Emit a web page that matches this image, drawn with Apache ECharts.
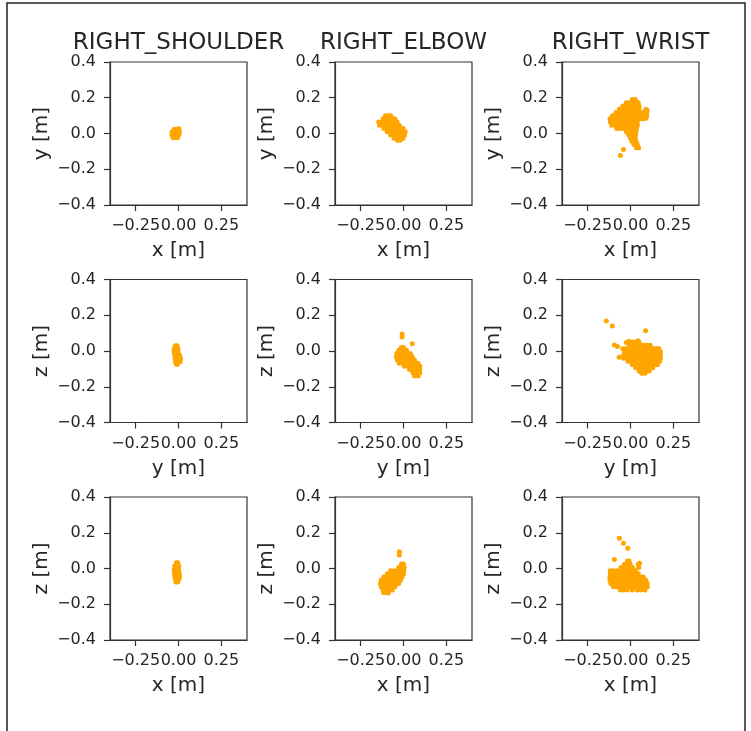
<!DOCTYPE html>
<html>
<head>
<meta charset="utf-8">
<script src="https://cdn.jsdelivr.net/npm/echarts@6/dist/echarts.min.js"></script>
<style>
html,body{margin:0;padding:0;background:#fff;}
#chart{width:751px;height:731px;}
</style>
</head>
<body>
<div id="chart"></div>
<script>
// ---- labels ----
const jointTitles = ['RIGHT_SHOULDER', 'RIGHT_ELBOW', 'RIGHT_WRIST'];
const rowXNames = ['x [m]', 'y [m]', 'x [m]'];
const rowYNames = ['y [m]', 'z [m]', 'z [m]'];
const xTickValues = [-0.25, 0, 0.25];
const xTickLabels = ['\u22120.25', '0.00', '0.25'];
const yTickLabels = ['\u22120.4', '\u22120.2', '0.0', '0.2', '0.4'];

// ---- data ----
// row 1: x-y
const shoulderXY = [
  [-0.025,0.024],[-0.008,0.024],[0.003,0.026],
  [-0.038,0.008],[-0.02,0.008],[-0.003,0.008],[0.005,0.01],
  [-0.038,-0.008],[-0.02,-0.008],[-0.003,-0.008],[0.003,-0.006],
  [-0.032,-0.024],[-0.015,-0.024],[-0.005,-0.022]
];
const elbowXY = [
  [-0.105,0.1],[-0.09,0.1],[-0.075,0.1],
  [-0.12,0.082],[-0.1,0.082],[-0.08,0.082],[-0.062,0.082],[-0.05,0.082],
  [-0.145,0.064],[-0.125,0.064],[-0.105,0.064],[-0.085,0.064],[-0.065,0.064],[-0.048,0.064],[-0.038,0.064],
  [-0.14,0.046],[-0.12,0.046],[-0.1,0.046],[-0.08,0.046],[-0.06,0.046],[-0.04,0.046],[-0.025,0.046],
  [-0.115,0.028],[-0.095,0.028],[-0.075,0.028],[-0.055,0.028],[-0.035,0.028],[-0.015,0.028],[-0.002,0.028],
  [-0.095,0.01],[-0.075,0.01],[-0.055,0.01],[-0.035,0.01],[-0.015,0.01],[0.003,0.01],[0.01,0.01],
  [-0.075,-0.008],[-0.055,-0.008],[-0.035,-0.008],[-0.015,-0.008],[0.003,-0.008],[0.006,-0.008],
  [-0.055,-0.026],[-0.035,-0.026],[-0.015,-0.026],[-0.003,-0.026],
  [-0.035,-0.038],[-0.02,-0.038]
];
const wristXY = [
  [0.01,0.19],[0.028,0.19],
  [-0.025,0.172],[-0.005,0.172],[0.015,0.172],[0.035,0.172],[0.045,0.172],
  [-0.045,0.154],[-0.025,0.154],[-0.005,0.154],[0.015,0.154],[0.035,0.154],[0.05,0.154],
  [-0.065,0.136],[-0.045,0.136],[-0.025,0.136],[-0.005,0.136],[0.015,0.136],[0.035,0.136],[0.05,0.136],[0.09,0.136],[0.097,0.13],
  [-0.085,0.118],[-0.065,0.118],[-0.045,0.118],[-0.025,0.118],[-0.005,0.118],[0.015,0.118],[0.035,0.118],[0.055,0.118],[0.075,0.118],[0.095,0.118],
  [-0.105,0.1],[-0.085,0.1],[-0.065,0.1],[-0.045,0.1],[-0.025,0.1],[-0.005,0.1],[0.015,0.1],[0.035,0.1],[0.055,0.1],[0.075,0.1],[0.095,0.1],
  [-0.12,0.082],[-0.1,0.082],[-0.08,0.082],[-0.06,0.082],[-0.04,0.082],[-0.02,0.082],[0.0,0.082],[0.02,0.082],[0.04,0.082],[0.06,0.082],[0.075,0.082],[0.09,0.085],
  [-0.118,0.064],[-0.1,0.064],[-0.08,0.064],[-0.06,0.064],[-0.04,0.064],[-0.02,0.064],[0.0,0.064],[0.02,0.064],[0.04,0.064],
  [-0.11,0.046],[-0.09,0.046],[-0.07,0.046],[-0.05,0.046],[-0.03,0.046],[-0.01,0.046],[0.01,0.046],[0.03,0.046],[0.04,0.046],
  [-0.08,0.028],[-0.06,0.028],[-0.04,0.028],[-0.02,0.028],[0.0,0.028],[0.02,0.028],[0.035,0.028],
  [-0.025,0.01],[-0.005,0.01],[0.015,0.01],[0.032,0.01],
  [-0.01,-0.008],[0.01,-0.008],[0.03,-0.008],
  [0.0,-0.026],[0.018,-0.026],[0.028,-0.026],
  [0.008,-0.044],[0.025,-0.044],[0.032,-0.044],
  [0.02,-0.062],[0.04,-0.062],
  [0.035,-0.08],[0.048,-0.08],
  [-0.041,-0.089],[-0.059,-0.123]
];
// row 2: y-z
const shoulderYZ = [
  [-0.018,0.03],[-0.008,0.03],
  [-0.026,0.012],[-0.008,0.012],[-0.003,0.012],
  [-0.026,-0.006],[-0.008,-0.006],[-0.002,-0.006],
  [-0.022,-0.024],[-0.005,-0.024],[0.006,-0.024],
  [-0.02,-0.042],[-0.003,-0.042],[0.012,-0.042],
  [-0.018,-0.06],[-0.002,-0.06],[0.01,-0.06],
  [-0.012,-0.074],[-0.006,-0.074]
];
const elbowYZ = [
  [-0.008,0.095],[-0.008,0.078],[0.051,0.04],
  [-0.012,0.02],[0.0,0.02],
  [-0.027,0.004],[-0.008,0.004],[0.012,0.004],[0.018,0.004],
  [-0.04,-0.014],[-0.02,-0.014],[0.0,-0.014],[0.02,-0.014],[0.04,-0.014],
  [-0.042,-0.032],[-0.022,-0.032],[-0.002,-0.032],[0.018,-0.032],[0.038,-0.032],[0.05,-0.032],
  [-0.036,-0.05],[-0.016,-0.05],[0.004,-0.05],[0.024,-0.05],[0.044,-0.05],[0.064,-0.05],
  [-0.025,-0.068],[-0.005,-0.068],[0.015,-0.068],[0.035,-0.068],[0.055,-0.068],[0.075,-0.068],[0.085,-0.068],
  [0.005,-0.086],[0.025,-0.086],[0.045,-0.086],[0.065,-0.086],[0.085,-0.086],[0.095,-0.086],
  [0.035,-0.104],[0.055,-0.104],[0.075,-0.104],[0.095,-0.104],
  [0.055,-0.122],[0.075,-0.122],[0.095,-0.122],
  [0.065,-0.14],[0.085,-0.14]
];
const wristYZ = [
  [-0.141,0.168],[-0.106,0.14],[0.088,0.113],
  [-0.094,0.034],[-0.076,0.025],[-0.066,-0.035],[-0.045,0.012],[-0.025,0.048],[-0.01,0.055],[0.045,0.058],
  [0.01,0.05],[0.03,0.05],[0.05,0.048],
  [-0.005,0.032],[0.015,0.032],[0.035,0.032],[0.055,0.032],[0.075,0.032],[0.095,0.032],[0.115,0.032],
  [-0.025,0.014],[-0.005,0.014],[0.015,0.014],[0.035,0.014],[0.055,0.014],[0.075,0.014],[0.095,0.014],[0.115,0.014],[0.135,0.014],[0.155,0.014],[0.165,0.014],
  [-0.035,-0.004],[-0.015,-0.004],[0.005,-0.004],[0.025,-0.004],[0.045,-0.004],[0.065,-0.004],[0.085,-0.004],[0.105,-0.004],[0.125,-0.004],[0.145,-0.004],[0.165,-0.004],[0.175,-0.004],
  [-0.04,-0.022],[-0.02,-0.022],[0.0,-0.022],[0.02,-0.022],[0.04,-0.022],[0.06,-0.022],[0.08,-0.022],[0.1,-0.022],[0.12,-0.022],[0.14,-0.022],[0.16,-0.022],[0.175,-0.022],
  [-0.04,-0.04],[-0.02,-0.04],[0.0,-0.04],[0.02,-0.04],[0.04,-0.04],[0.06,-0.04],[0.08,-0.04],[0.1,-0.04],[0.12,-0.04],[0.14,-0.04],[0.16,-0.04],[0.175,-0.04],
  [-0.015,-0.058],[0.005,-0.058],[0.025,-0.058],[0.045,-0.058],[0.065,-0.058],[0.085,-0.058],[0.105,-0.058],[0.125,-0.058],[0.145,-0.058],[0.165,-0.058],[0.17,-0.058],
  [0.01,-0.076],[0.03,-0.076],[0.05,-0.076],[0.07,-0.076],[0.09,-0.076],[0.11,-0.076],[0.13,-0.076],[0.15,-0.076],[0.158,-0.076],
  [0.03,-0.094],[0.05,-0.094],[0.07,-0.094],[0.09,-0.094],[0.11,-0.094],[0.13,-0.094],
  [0.05,-0.112],[0.07,-0.112],[0.09,-0.112],[0.11,-0.112],
  [0.065,-0.124],[0.085,-0.124]
];
// row 3: x-z
const shoulderXZ = [
  [-0.012,0.032],[-0.004,0.032],
  [-0.022,0.014],[-0.006,0.014],[0.002,0.014],
  [-0.025,-0.004],[-0.01,-0.004],[0.0,-0.004],
  [-0.025,-0.022],[-0.01,-0.022],[0.004,-0.022],
  [-0.022,-0.04],[-0.008,-0.04],[0.006,-0.04],
  [-0.02,-0.058],[-0.006,-0.058],[0.004,-0.058],
  [-0.015,-0.076],[-0.005,-0.076]
];
const elbowXZ = [
  [-0.024,0.094],[-0.024,0.075],
  [-0.012,0.025],[0.0,0.025],
  [-0.028,0.006],[-0.01,0.006],[0.004,0.006],
  [-0.075,-0.012],[-0.055,-0.012],[-0.035,-0.012],[-0.015,-0.012],[0.002,-0.012],
  [-0.095,-0.03],[-0.075,-0.03],[-0.055,-0.03],[-0.035,-0.03],[-0.015,-0.03],[0.0,-0.03],
  [-0.115,-0.048],[-0.095,-0.048],[-0.075,-0.048],[-0.055,-0.048],[-0.035,-0.048],[-0.015,-0.048],[-0.008,-0.048],
  [-0.13,-0.066],[-0.11,-0.066],[-0.09,-0.066],[-0.07,-0.066],[-0.05,-0.066],[-0.03,-0.066],[-0.018,-0.066],
  [-0.135,-0.084],[-0.115,-0.084],[-0.095,-0.084],[-0.075,-0.084],[-0.055,-0.084],[-0.035,-0.084],[-0.028,-0.084],
  [-0.13,-0.102],[-0.11,-0.102],[-0.09,-0.102],[-0.07,-0.102],[-0.05,-0.102],
  [-0.12,-0.12],[-0.1,-0.12],[-0.08,-0.12],[-0.065,-0.12],
  [-0.115,-0.136],[-0.095,-0.136],[-0.088,-0.136]
];
const wristXZ = [
  [-0.065,0.169],[-0.041,0.141],[-0.016,0.113],[-0.094,0.051],[0.053,0.029],[0.045,0.022],
  [-0.018,0.042],[-0.008,0.042],
  [-0.035,0.024],[-0.015,0.024],[-0.002,0.024],
  [-0.055,0.006],[-0.035,0.006],[-0.015,0.006],[0.005,0.006],[0.012,0.006],[0.048,0.006],
  [-0.118,-0.012],[-0.1,-0.012],[-0.08,-0.012],[-0.06,-0.012],[-0.04,-0.012],[-0.02,-0.012],[0.0,-0.012],[0.02,-0.012],[0.028,-0.012],
  [-0.118,-0.03],[-0.1,-0.03],[-0.08,-0.03],[-0.06,-0.03],[-0.04,-0.03],[-0.02,-0.03],[0.0,-0.03],[0.02,-0.03],[0.04,-0.03],[0.045,-0.03],
  [-0.12,-0.048],[-0.1,-0.048],[-0.08,-0.048],[-0.06,-0.048],[-0.04,-0.048],[-0.02,-0.048],[0.0,-0.048],[0.02,-0.048],[0.04,-0.048],[0.06,-0.048],[0.075,-0.048],
  [-0.12,-0.066],[-0.1,-0.066],[-0.08,-0.066],[-0.06,-0.066],[-0.04,-0.066],[-0.02,-0.066],[0.0,-0.066],[0.02,-0.066],[0.04,-0.066],[0.06,-0.066],[0.08,-0.066],[0.09,-0.066],
  [-0.115,-0.084],[-0.095,-0.084],[-0.075,-0.084],[-0.055,-0.084],[-0.035,-0.084],[-0.015,-0.084],[0.005,-0.084],[0.025,-0.084],[0.045,-0.084],[0.065,-0.084],[0.085,-0.084],[0.098,-0.084],
  [-0.1,-0.102],[-0.08,-0.102],[-0.06,-0.102],[-0.04,-0.102],[-0.02,-0.102],[0.0,-0.102],[0.02,-0.102],[0.04,-0.102],[0.06,-0.102],[0.08,-0.102],[0.098,-0.102],
  [-0.06,-0.12],[-0.04,-0.12],[-0.02,-0.12],[0.01,-0.12],[0.04,-0.12],[0.06,-0.12],[0.085,-0.12]
];

const panelData = [
  [shoulderXY, elbowXY, wristXY],
  [shoulderYZ, elbowYZ, wristYZ],
  [shoulderXZ, elbowXZ, wristXZ]
];

// ---- layout ----
const colLeft = [110, 335, 562];
const rowTop = [62, 279.5, 497];
const boxW = 137, boxH = 143;
const FONT = 'DejaVu Sans';
const TXT = '#262626';
const LINE = '#333333';

const grids = [], xAxes = [], yAxes = [], series = [], graphics = [];
let idx = 0;
for (let r = 0; r < 3; r++) {
  for (let c = 0; c < 3; c++) {
    grids.push({
      left: colLeft[c], top: rowTop[r], width: boxW, height: boxH,
      show: true, borderColor: LINE, borderWidth: 1.2, backgroundColor: 'transparent',
      containLabel: false
    });
    xAxes.push({
      type: 'value', gridIndex: idx, min: -0.4, max: 0.4,
      name: rowXNames[r], nameLocation: 'middle', nameGap: 36,
      nameTextStyle: { fontFamily: FONT, fontSize: 20, color: TXT },
      axisLine: { show: true, onZero: false, lineStyle: { color: LINE, width: 1.2 } },
      axisTick: { show: true, inside: false, length: 6, customValues: xTickValues, lineStyle: { color: LINE, width: 1.2 } },
      axisLabel: {
        show: true, margin: 13, customValues: xTickValues,
        fontFamily: FONT, fontSize: 16, color: TXT,
        formatter: function (v) {
          const i = xTickValues.findIndex(t => Math.abs(t - v) < 1e-9);
          return i >= 0 ? xTickLabels[i] : '';
        }
      },
      splitLine: { show: false }
    });
    yAxes.push({
      type: 'value', gridIndex: idx, min: -0.4, max: 0.4, interval: 0.2,
      name: rowYNames[r], nameLocation: 'middle', nameGap: 58,
      nameTextStyle: { fontFamily: FONT, fontSize: 20, color: TXT },
      axisLine: { show: true, onZero: false, lineStyle: { color: LINE, width: 1.2 } },
      axisTick: { show: true, inside: false, length: 6, lineStyle: { color: LINE, width: 1.2 } },
      axisLabel: {
        show: true, margin: 14, fontFamily: FONT, fontSize: 16, color: TXT,
        showMinLabel: true, showMaxLabel: true,
        formatter: function (v) {
          const k = Math.round((v + 0.4) / 0.2);
          return yTickLabels[k];
        }
      },
      splitLine: { show: false }
    });
    series.push({
      type: 'scatter', xAxisIndex: idx, yAxisIndex: idx,
      data: panelData[r][c], symbol: 'circle', symbolSize: 5,
      itemStyle: { color: '#ffa500', opacity: 1 },
      silent: true
    });
    idx++;
  }
}
for (let c = 0; c < 3; c++) {
  graphics.push({
    type: 'text',
    style: {
      x: colLeft[c] + boxW / 2, y: 43, text: jointTitles[c],
      font: '23px "DejaVu Sans"', fill: TXT,
      textAlign: 'center', textVerticalAlign: 'middle'
    }
  });
}
graphics.push({
  type: 'rect', silent: true,
  shape: { x: 7, y: 3, width: 738, height: 740 },
  style: { fill: 'none', stroke: '#222', lineWidth: 1.5 }
});

const chart = echarts.init(document.getElementById('chart'), null, { renderer: 'canvas' });
chart.setOption({
  animation: false,
  backgroundColor: '#ffffff',
  grid: grids, xAxis: xAxes, yAxis: yAxes, series: series,
  graphic: graphics
});
</script>
</body>
</html>
